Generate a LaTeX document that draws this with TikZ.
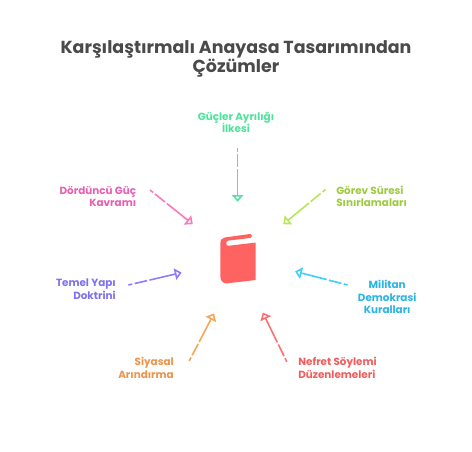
\documentclass[tikz,border=0pt]{standalone}
\usepackage{fontspec}
\setmainfont{Poppins}
\usetikzlibrary{arrows.meta}
\definecolor{titlegray}{HTML}{4A4A4A}
\definecolor{bookred}{HTML}{FF6361}
\definecolor{greenline}{HTML}{5EDFA0}
\definecolor{greentext}{HTML}{4FE39A}
\definecolor{limeline}{HTML}{B5E854}
\definecolor{limetext}{HTML}{9CCB3F}
\definecolor{pinkline}{HTML}{FB78BD}
\definecolor{pinktext}{HTML}{E95FB0}
\definecolor{purpleline}{HTML}{8C7DF8}
\definecolor{purpletext}{HTML}{7F70F0}
\definecolor{orangeline}{HTML}{F7A556}
\definecolor{orangetext}{HTML}{EE934A}
\definecolor{redline}{HTML}{FF6F6F}
\definecolor{redtext}{HTML}{F25C5C}
\definecolor{blueline}{HTML}{3FCDFB}
\definecolor{bluetext}{HTML}{2BB4E6}
\tikzset{
	lbl/.style={font=\fontsize{7.4pt}{8.9pt}\selectfont\bfseries,inner sep=0pt},
	arr/.style={line width=0.4mm,-{Triangle[open,length=1.7mm,width=2.9mm]},dash pattern=on 1mm off 0.6mm on 3.2mm off 0.6mm on 60mm}
}
\begin{document}
\begin{tikzpicture}
	\useasboundingbox (0mm,0mm) rectangle (118mm,112.75mm);
	%title
	\node[font=\fontsize{12.4pt}{14pt}\selectfont\bfseries,color=titlegray,align=center,inner sep=0pt] (title) at (59mm,98mm) {Karşılaştırmalı Anayasa Tasarımından\\Çözümler};

	%labels
	\node[lbl,color=greentext,align=center] (guc) at (59mm,82.2mm) {Güçler Ayrılığı\\İlkesi};
	\node[lbl,color=limetext,align=left,anchor=west] (gorev) at (84mm,63.6mm) {Görev Süresi\\Sınırlamaları};
	\node[lbl,color=pinktext,align=right,anchor=east] (dorduncu) at (34.1mm,63.6mm) {Dördüncü Güç\\Kavramı};
	\node[lbl,color=purpletext,align=right,anchor=east] (temel) at (29mm,40.4mm) {Temel Yapı\\Doktrini};
	\node[lbl,color=orangetext,align=right,anchor=east] (siyasal) at (43.5mm,20.8mm) {Siyasal\\Arındırma};
	\node[lbl,color=redtext,align=left,anchor=west] (nefret) at (74.5mm,20.8mm) {Nefret Söylemi\\Düzenlemeleri};
	\node[lbl,color=bluetext,align=center] (militan) at (96.8mm,38.5mm) {Militan\\Demokrasi\\Kuralları};

	%arrow ends
	\coordinate (gucA) at (59.4mm,75.8mm);
	\coordinate (gucB) at (59.4mm,62.3mm);
	\coordinate (gorevA) at (81.4mm,65.4mm);
	\coordinate (gorevB) at (70.8mm,56.7mm);
	\coordinate (dorduncuA) at (37.5mm,65.25mm);
	\coordinate (dorduncuB) at (48.2mm,56.7mm);
	\coordinate (temelA) at (32.1mm,41.5mm);
	\coordinate (temelB) at (45.4mm,44.6mm);
	\coordinate (siyasalA) at (47.3mm,22.5mm);
	\coordinate (siyasalB) at (53.5mm,34.4mm);
	\coordinate (nefretA) at (71.7mm,22.3mm);
	\coordinate (nefretB) at (65.7mm,34.6mm);
	\coordinate (militanA) at (86.9mm,41.5mm);
	\coordinate (militanB) at (73.75mm,44.9mm);

	\draw[arr,color=greenline] (gucA)--(gucB);
	\draw[arr,color=limeline] (gorevA)--(gorevB);
	\draw[arr,color=pinkline] (dorduncuA)--(dorduncuB);
	\draw[arr,color=purpleline] (temelA)--(temelB);
	\draw[arr,color=orangeline] (siyasalA)--(siyasalB);
	\draw[arr,color=redline] (nefretA)--(nefretB);
	\draw[arr,color=blueline] (militanA)--(militanB);

	%book
	\fill[color=bookred] (55.1mm,43.6mm)--(55.1mm,51.9mm)
		.. controls (55.1mm,52.8mm) and (55.5mm,53.3mm) .. (56.25mm,53.4mm)
		--(62.5mm,54.25mm)
		.. controls (63.1mm,54.25mm) and (63.1mm,53.25mm) .. (62.5mm,53.25mm)
		--(57.1mm,52.6mm)
		.. controls (56.4mm,52.5mm) and (56.4mm,51.4mm) .. (57mm,51.3mm)
		--(63.9mm,52.1mm)--(63.9mm,42.75mm)--(56.7mm,41.9mm)
		.. controls (55.7mm,41.9mm) and (55.1mm,42.6mm) .. (55.1mm,43.6mm)--cycle;
\end{tikzpicture}
\end{document}
